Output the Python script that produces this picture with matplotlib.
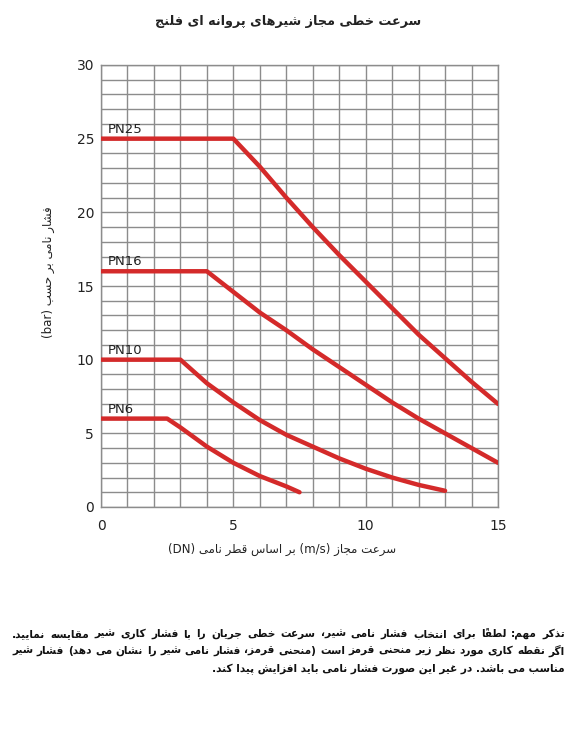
import re
import numpy as np
import matplotlib
matplotlib.use('Agg')
import matplotlib.pyplot as plt

# ── data ────────────────────────────────────────────────────────────────────
pn25_x = [0, 5, 6, 7, 8, 9, 10, 11, 12, 13, 14, 15]
pn25_y = [25, 25, 23.1, 21.0, 19.0, 17.1, 15.3, 13.5, 11.7, 10.1, 8.5, 7.0]

pn16_x = [0, 4, 5, 6, 7, 8, 9, 10, 11, 12, 13, 14, 15]
pn16_y = [16, 16, 14.6, 13.2, 12.0, 10.7, 9.5, 8.3, 7.1, 6.0, 5.0, 4.0, 3.0]

pn10_x = [0, 3, 4, 5, 6, 7, 8, 9, 10, 11, 12, 13]
pn10_y = [10, 10, 8.4, 7.1, 5.9, 4.9, 4.1, 3.3, 2.6, 2.0, 1.5, 1.1]

pn6_x = [0, 2.5, 3, 4, 5, 6, 7, 7.5]
pn6_y = [6, 6, 5.4, 4.1, 3.0, 2.1, 1.4, 1.0]

series = [("PN25", pn25_x, pn25_y), ("PN16", pn16_x, pn16_y),
          ("PN10", pn10_x, pn10_y), ("PN6", pn6_x, pn6_y)]

x_ticks = [0, 5, 10, 15]
y_ticks = [0, 5, 10, 15, 20, 25, 30]

title = "سرعت خطی مجاز شیرهای پروانه ای فلنج"
ylabel = "فشار نامی بر حسب (bar)"
xlabel = "سرعت مجاز (m/s) بر اساس قطر نامی (DN)"
note_lines = [
    "تذکر مهم: لطفاً برای انتخاب فشار نامی شیر، سرعت خطی جریان را با فشار کاری شیر مقایسه نمایید.",
    "اگر نقطه کاری مورد نظر زیر منحنی قرمز است (منحنی قرمز، فشار نامی شیر را نشان می دهد) فشار شیر",
    "مناسب می باشد. در غیر این صورت فشار نامی باید افزایش پیدا کند.",
]

# ── minimal arabic/persian shaping (matplotlib has no text shaping) ─────────
# letter -> (isolated, final, initial, medial)
FORMS = {
    'ء': (0xFE80, None, None, None),
    'آ': (0xFE81, 0xFE82, None, None), 'أ': (0xFE83, 0xFE84, None, None),
    'إ': (0xFE87, 0xFE88, None, None), 'ا': (0xFE8D, 0xFE8E, None, None),
    'ئ': (0xFE89, 0xFE8A, 0xFE8B, 0xFE8C), 'ب': (0xFE8F, 0xFE90, 0xFE91, 0xFE92),
    'ة': (0xFE93, 0xFE94, None, None), 'ت': (0xFE95, 0xFE96, 0xFE97, 0xFE98),
    'ث': (0xFE99, 0xFE9A, 0xFE9B, 0xFE9C), 'ج': (0xFE9D, 0xFE9E, 0xFE9F, 0xFEA0),
    'ح': (0xFEA1, 0xFEA2, 0xFEA3, 0xFEA4), 'خ': (0xFEA5, 0xFEA6, 0xFEA7, 0xFEA8),
    'د': (0xFEA9, 0xFEAA, None, None), 'ذ': (0xFEAB, 0xFEAC, None, None),
    'ر': (0xFEAD, 0xFEAE, None, None), 'ز': (0xFEAF, 0xFEB0, None, None),
    'س': (0xFEB1, 0xFEB2, 0xFEB3, 0xFEB4), 'ش': (0xFEB5, 0xFEB6, 0xFEB7, 0xFEB8),
    'ص': (0xFEB9, 0xFEBA, 0xFEBB, 0xFEBC), 'ض': (0xFEBD, 0xFEBE, 0xFEBF, 0xFEC0),
    'ط': (0xFEC1, 0xFEC2, 0xFEC3, 0xFEC4), 'ظ': (0xFEC5, 0xFEC6, 0xFEC7, 0xFEC8),
    'ع': (0xFEC9, 0xFECA, 0xFECB, 0xFECC), 'غ': (0xFECD, 0xFECE, 0xFECF, 0xFED0),
    'ف': (0xFED1, 0xFED2, 0xFED3, 0xFED4), 'ق': (0xFED5, 0xFED6, 0xFED7, 0xFED8),
    'ك': (0xFED9, 0xFEDA, 0xFEDB, 0xFEDC), 'ل': (0xFEDD, 0xFEDE, 0xFEDF, 0xFEE0),
    'م': (0xFEE1, 0xFEE2, 0xFEE3, 0xFEE4), 'ن': (0xFEE5, 0xFEE6, 0xFEE7, 0xFEE8),
    'ه': (0xFEE9, 0xFEEA, 0xFEEB, 0xFEEC), 'و': (0xFEED, 0xFEEE, None, None),
    'ى': (0xFEEF, 0xFEF0, None, None), 'ي': (0xFEF1, 0xFEF2, 0xFEF3, 0xFEF4),
    'پ': (0xFB56, 0xFB57, 0xFB58, 0xFB59), 'چ': (0xFB7A, 0xFB7B, 0xFB7C, 0xFB7D),
    'ژ': (0xFB8A, 0xFB8B, None, None), 'ک': (0xFB8E, 0xFB8F, 0xFB90, 0xFB91),
    'گ': (0xFB92, 0xFB93, 0xFB94, 0xFB95), 'ی': (0xFBFC, 0xFBFD, 0xFBFE, 0xFBFF),
}
MARKS = set(chr(c) for c in range(0x064B, 0x0653)) | {'\u0670'}
MIRROR = {'(': ')', ')': '(', '[': ']', ']': '[', '«': '»', '»': '«'}


def joins_left(ch):
    return ch in FORMS and FORMS[ch][2] is not None


def joins_right(ch):
    return ch in FORMS and FORMS[ch][1] is not None


def shape(text):
    chars = list(text)
    out = []
    for i, ch in enumerate(chars):
        if ch not in FORMS:
            out.append(ch)
            continue
        j = i - 1
        while j >= 0 and chars[j] in MARKS:
            j -= 1
        k = i + 1
        while k < len(chars) and chars[k] in MARKS:
            k += 1
        prev = j >= 0 and joins_left(chars[j]) and joins_right(ch)
        nxt = k < len(chars) and joins_left(ch) and joins_right(chars[k])
        iso, fin, ini, med = FORMS[ch]
        if prev and nxt:
            c = med
        elif prev:
            c = fin
        elif nxt:
            c = ini
        else:
            c = iso
        out.append(chr(c))
    return ''.join(out).replace('\u200c', '')


def visual(text):
    """shape + crude bidi for an RTL paragraph with embedded latin runs"""
    s = shape(text)
    segs = []
    pos = 0
    for m in re.finditer(r'[A-Za-z0-9]+(?:[/.\-][A-Za-z0-9]+)*', s):
        for ch in s[pos:m.start()]:
            segs.append(('r', ch))
        segs.append(('l', m.group()))
        pos = m.end()
    for ch in s[pos:]:
        segs.append(('r', ch))
    # keep marks with their base letter
    clusters = []
    for kind, t in segs:
        if kind == 'r' and t in MARKS and clusters:
            clusters[-1] = (clusters[-1][0], clusters[-1][1] + t)
        else:
            clusters.append((kind, t))
    res = []
    for kind, t in reversed(clusters):
        res.append(MIRROR.get(t, t) if kind == 'r' else t)
    return ''.join(res)


# ── figure ──────────────────────────────────────────────────────────────────
W, H = 578, 748
fig = plt.figure(figsize=(W / 100, H / 100), dpi=100)
ax = fig.add_axes([101 / W, 1 - 507 / H, 397 / W, 442 / H])

GRID = '#8c8c8c'
RED = '#d42a2a'

ax.set_xlim(0, 15)
ax.set_ylim(0, 30)
ax.set_xticks(x_ticks)
ax.set_xticks(np.arange(0, 16, 1), minor=True)
ax.set_yticks(y_ticks)
ax.set_yticks(np.arange(0, 31, 1), minor=True)
ax.grid(True, which='both', color=GRID, linewidth=1.0)
ax.set_axisbelow(True)
ax.tick_params(which='both', length=0)
ax.tick_params(axis='x', pad=9, labelsize=10, labelcolor='#222222')
ax.tick_params(axis='y', pad=5, labelsize=10, labelcolor='#222222')
for sp in ax.spines.values():
    sp.set_color(GRID)
    sp.set_linewidth(1.0)

for name, xs, ys in series:
    ax.plot(xs, ys, color=RED, linewidth=3.2, solid_capstyle='round',
            solid_joinstyle='round', zorder=3)
    ax.text(0.25, ys[0] + 0.2, name, fontsize=9.5, color='#222222',
            ha='left', va='bottom', zorder=4)

AR = ['DejaVu Sans']
fig.text(288 / W, 1 - 22 / H, visual(title), family=AR, fontsize=9.2,
         fontweight='bold', ha='center', va='center', color='#222222')
fig.text(282 / W, 1 - 549 / H, visual(xlabel), family=AR, fontsize=8.5,
         ha='center', va='center', color='#222222')
fig.text(48 / W, 1 - 272 / H, visual(ylabel), family=AR, fontsize=8.5,
         rotation=90, ha='center', va='center', color='#222222')

# note block: first two lines justified, last one right aligned
renderer = fig.canvas.get_renderer()
X0, X1 = 12, 565
line_y = [634, 651, 669]
vis_lines = [visual(l) for l in note_lines]

# pick a font size at which the longest justified line still fits
fs = 8.5
while fs > 6:
    t = fig.text(0, 0, vis_lines[1], family=AR, fontsize=fs, fontweight='bold')
    wpx = t.get_window_extent(renderer).width
    t.remove()
    if wpx <= (X1 - X0):
        break
    fs -= 0.1

for li, (vis, yy) in enumerate(zip(vis_lines, line_y)):
    if li == len(vis_lines) - 1:
        fig.text(X1 / W, 1 - yy / H, vis, family=AR, fontsize=fs,
                 fontweight='bold', ha='right', va='center', color='#111111')
        continue
    words = vis.split(' ')
    texts = [fig.text(0, 1 - yy / H, w, family=AR, fontsize=fs,
                      fontweight='bold', ha='left', va='center',
                      color='#111111') for w in words]
    widths = [t.get_window_extent(renderer).width for t in texts]
    gap = (X1 - X0 - sum(widths)) / (len(words) - 1)
    x = X0
    for t, w in zip(texts, widths):
        t.set_x(x / W)
        x += w + gap

fig.savefig('out.png', dpi=100)
